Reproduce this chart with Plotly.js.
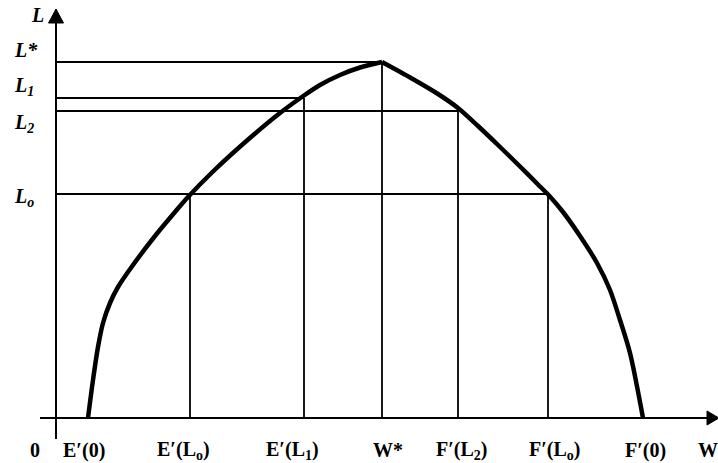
<!DOCTYPE html>
<html>
<head>
<meta charset="utf-8">
<script src="https://cdn.plot.ly/plotly-3.0.1.min.js"></script>
<style>
  html, body { margin: 0; padding: 0; background: #fff; }
  #chart { width: 718px; height: 463px; }
</style>
</head>
<body>
<div id="chart"></div>
<script>
// ---- Data (origin at the axes' crossing) ----
// Left branch of the curve (rising, up to the peak W*, L*)
const leftW = [32, 37, 42, 47, 54, 62, 77, 99, 119, 132, 157, 191, 224, 248, 264, 284, 304, 326];
const leftL = [0, 38, 71, 95, 115, 131, 153, 182, 206, 221, 246.5, 277.5, 305, 322.5, 333, 343, 350.5, 356];
// Right branch of the curve (falling from the peak)
const rightW = [326, 355, 382, 402, 422, 442, 462, 482, 493, 507, 524, 541, 554, 564, 574, 587];
const rightL = [356, 340, 324, 310, 292, 273, 253.5, 233.5, 222.5, 206, 182, 155, 128, 98, 65, 0];

// Levels on the L axis
const levelLabels = ['L*', 'L<sub>1</sub>', 'L<sub>2</sub>', 'L<sub>o</sub>'];
const levelValues = [356, 320, 307, 224];

// Marked points on the W axis and the curve height above each
const wLabels = ['E′(L<sub>o</sub>)', 'E′(L<sub>1</sub>)', 'W*', 'F′(L<sub>2</sub>)', 'F′(L<sub>o</sub>)'];
const wValues = [134, 248, 326, 402, 492];
const wHeights = [224, 320, 356, 307, 224];

// Roots of the curve on the W axis
const rootLabels = ['E′(0)', 'F′(0)'];
const rootValues = [32, 587];

// ---- Build traces ----
const refX = [], refY = [];
// vertical drop lines
wValues.forEach((w, i) => { refX.push(w, w, null); refY.push(0, wHeights[i], null); });
// horizontal lines from the L axis to the farthest point at that level
levelValues.forEach(l => {
  let maxW = 0;
  wValues.forEach((w, i) => { if (wHeights[i] === l && w > maxW) maxW = w; });
  refX.push(0, maxW, null); refY.push(l, l, null);
});

const curveLine = { color: '#000', width: 4.5, shape: 'spline', smoothing: 0.8 };
const traces = [
  { x: refX, y: refY, mode: 'lines', line: { color: '#000', width: 1.8 }, hoverinfo: 'skip' },
  { x: leftW, y: leftL, mode: 'lines', line: curveLine, hoverinfo: 'skip' },
  { x: rightW, y: rightL, mode: 'lines', line: curveLine, hoverinfo: 'skip' }
];

// ---- Annotations (labels) ----
const font = { family: 'Liberation Serif, Times New Roman, serif', size: 20, color: '#000' };
const ann = [];
const levelShift = [12, 12, -12, -3];
levelLabels.forEach((t, i) => {
  ann.push({ x: -44, y: levelValues[i], xref: 'x', yref: 'y', text: '<b><i>' + t + '</i></b>',
    showarrow: false, xanchor: 'left', yanchor: 'middle', yshift: levelShift[i], font: font });
});
ann.push({ x: -27, y: 403, xref: 'x', yref: 'y', text: '<b><i>L</i></b>', showarrow: false,
  xanchor: 'left', yanchor: 'middle', font: font });

const wShift = [-7, -12, 6, 4, 7];
wLabels.forEach((t, i) => {
  ann.push({ x: wValues[i], y: -32, xref: 'x', yref: 'y', text: '<b>' + t + '</b>',
    showarrow: false, xanchor: 'center', yanchor: 'middle', xshift: wShift[i], font: font });
});
const rootShift = [-4, 2];
rootLabels.forEach((t, i) => {
  ann.push({ x: rootValues[i], y: -32, xref: 'x', yref: 'y', text: '<b>' + t + '</b>',
    showarrow: false, xanchor: 'center', yanchor: 'middle', xshift: rootShift[i], font: font });
});
ann.push({ x: -21, y: -32, xref: 'x', yref: 'y', text: '<b>0</b>', showarrow: false,
  xanchor: 'center', yanchor: 'middle', font: font });
ann.push({ x: 640, y: -32, xref: 'x', yref: 'y', text: '<b>W</b>', showarrow: false,
  xanchor: 'left', yanchor: 'middle', font: font });

// ---- Axes drawn as lines with arrowheads ----
const shapes = [
  { type: 'line', xref: 'x', yref: 'y', x0: -16, y0: 0, x1: 652, y1: 0, line: { color: '#000', width: 2 } },
  { type: 'line', xref: 'x', yref: 'y', x0: 0, y0: -21, x1: 0, y1: 396, line: { color: '#000', width: 2 } },
  { type: 'path', xref: 'x', yref: 'y', path: 'M 651,7 L 663,0 L 651,-7 Z', fillcolor: '#000', line: { color: '#000', width: 1 } },
  { type: 'path', xref: 'x', yref: 'y', path: 'M -7.5,395 L 0,409 L 7.5,395 Z', fillcolor: '#000', line: { color: '#000', width: 1 } }
];

const layout = {
  width: 718, height: 463,
  margin: { l: 0, r: 0, t: 0, b: 0, pad: 0 },
  paper_bgcolor: '#fff', plot_bgcolor: '#fff',
  showlegend: false,
  xaxis: { range: [-56, 662], visible: false, fixedrange: true },
  yaxis: { range: [-45, 418], visible: false, fixedrange: true },
  annotations: ann,
  shapes: shapes
};

Plotly.newPlot('chart', traces, layout, { displayModeBar: false, staticPlot: true });
</script>
</body>
</html>
